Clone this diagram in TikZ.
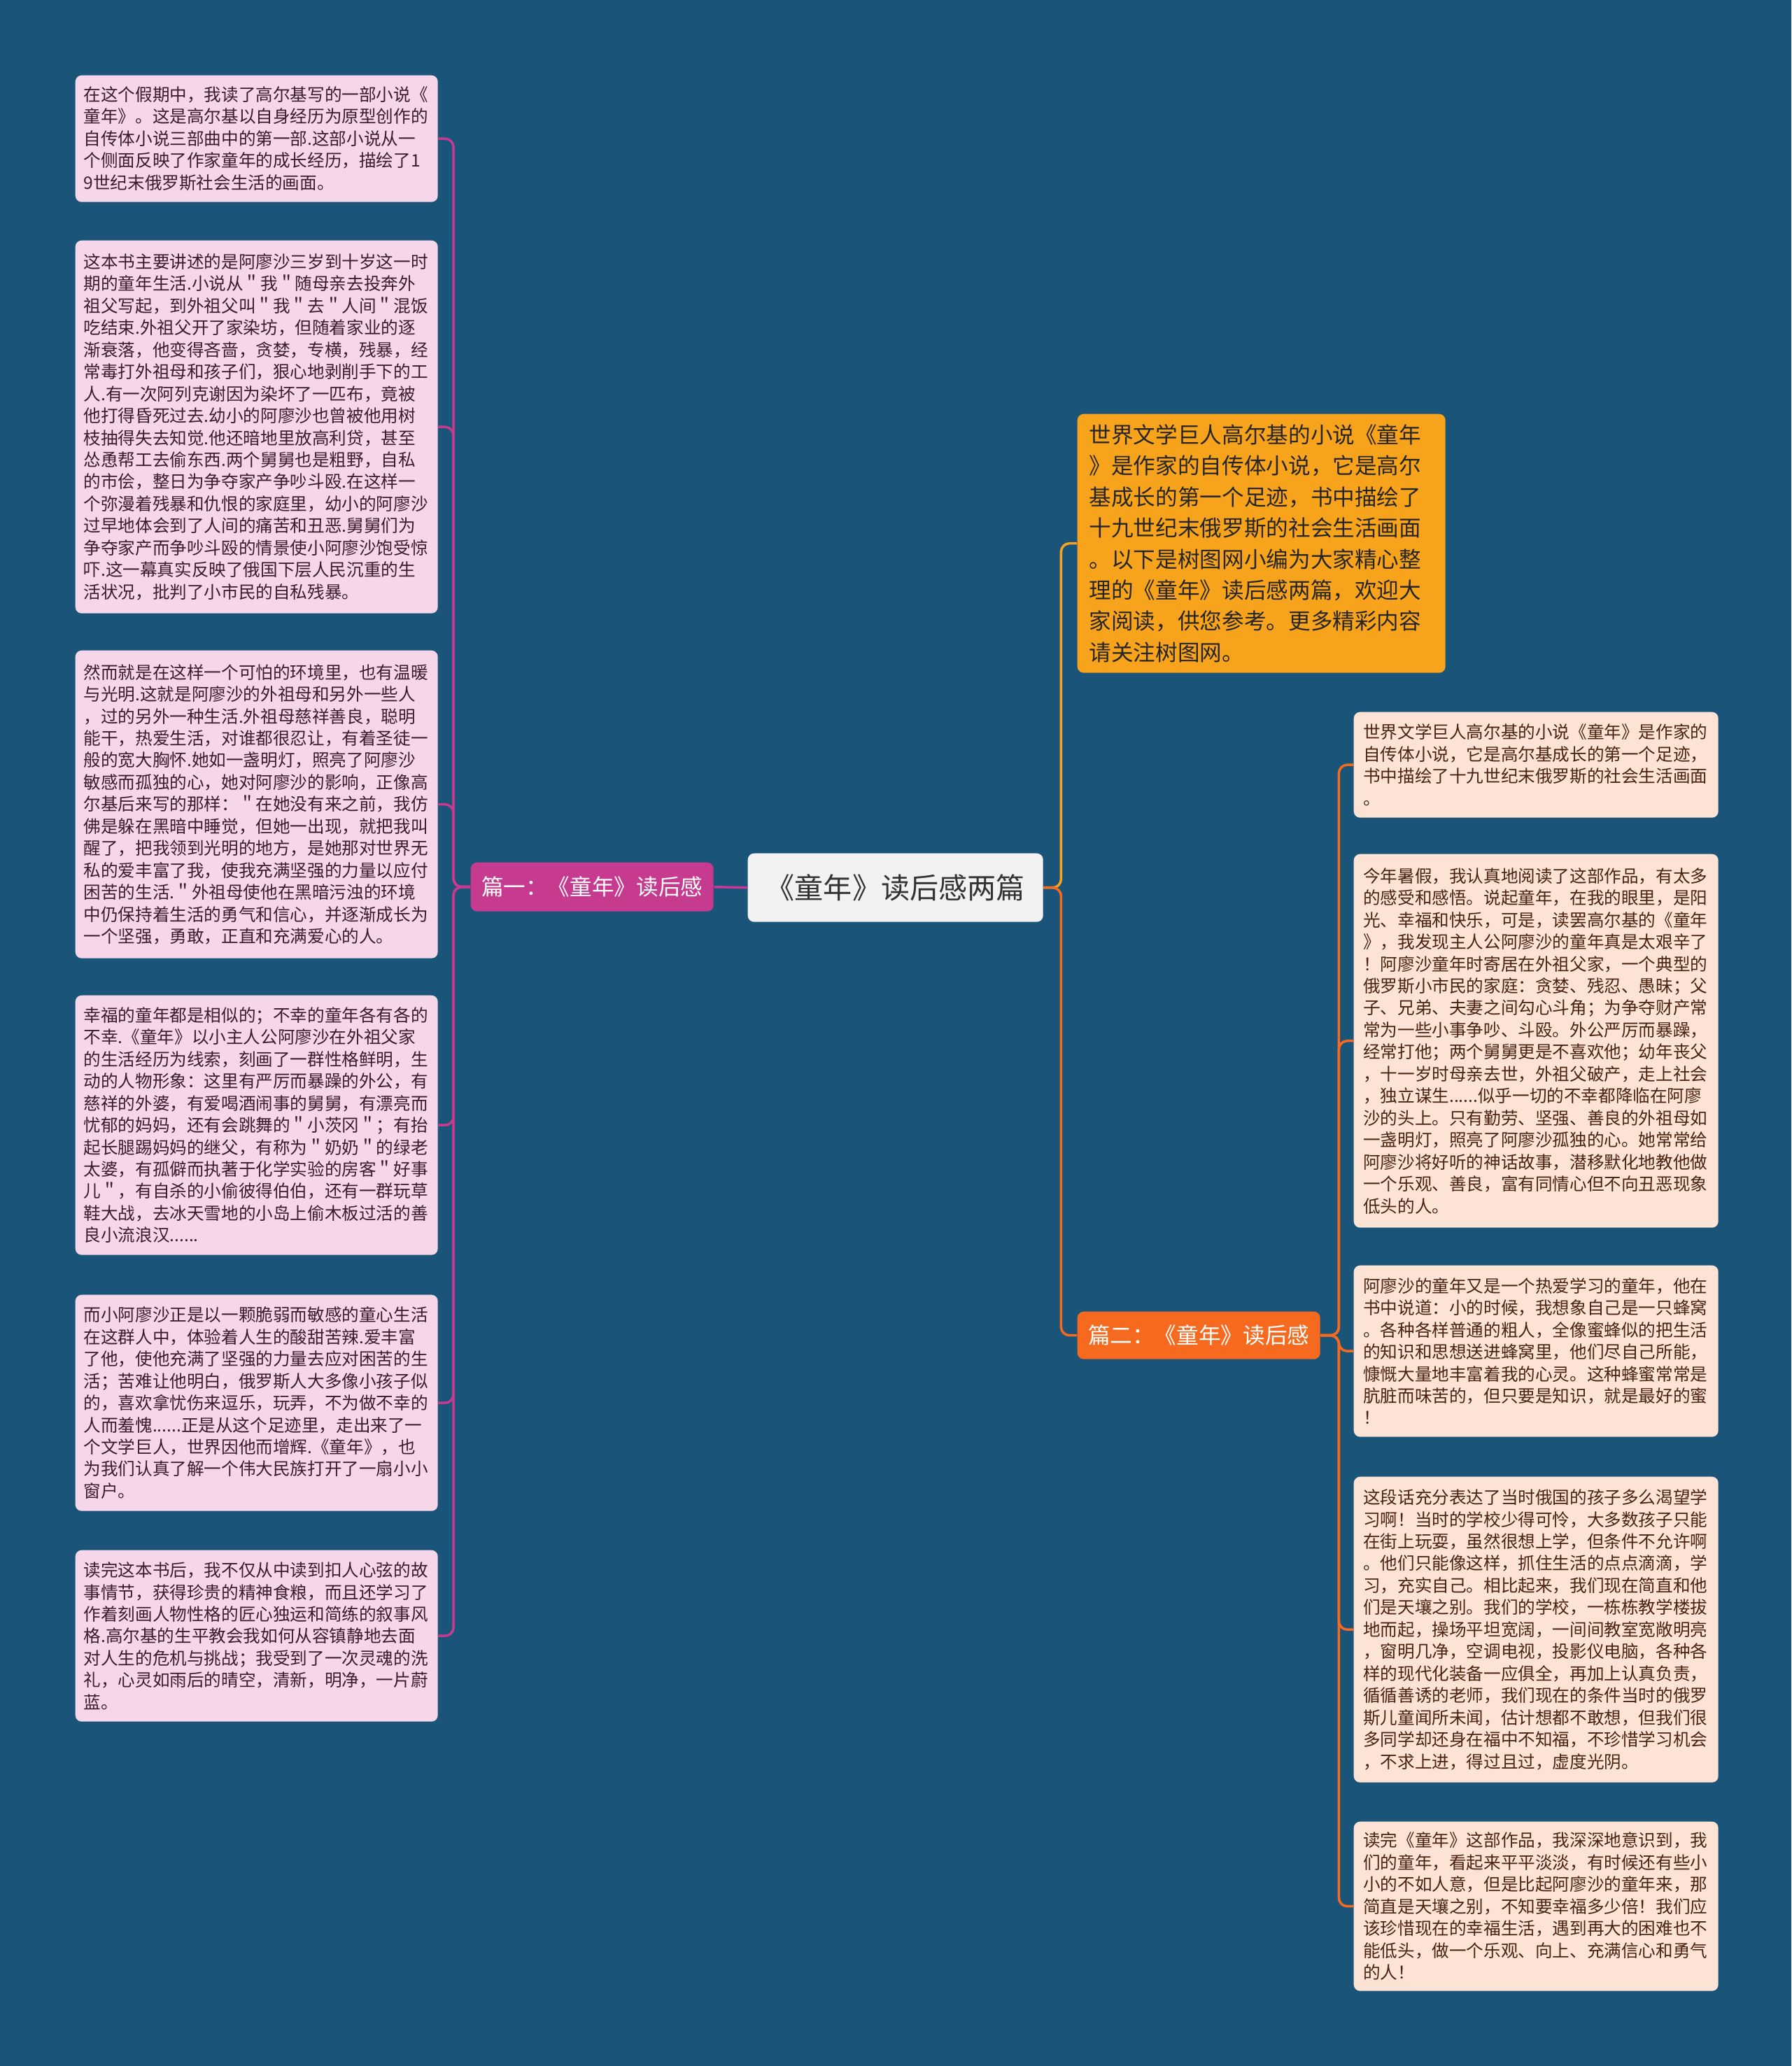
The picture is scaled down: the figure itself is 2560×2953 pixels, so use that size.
\documentclass[tikz,border=0pt]{standalone}
\usepackage{fontspec}
\newfontfamily\cjk{Noto Sans CJK SC}
\definecolor{bgblue}{HTML}{1B5479}
\definecolor{pinkbox}{HTML}{F6D7EA}
\definecolor{peachbox}{HTML}{FDE3D5}
\definecolor{magenta1}{HTML}{C63A8F}
\definecolor{gold1}{HTML}{F8A31C}
\definecolor{orange1}{HTML}{F56A1F}
\definecolor{greybox}{HTML}{F2F2F2}
\definecolor{lefttext}{HTML}{3A1B30}
\definecolor{righttext}{HTML}{4A2411}
\begin{document}
\begin{tikzpicture}[x=0.1mm, y=-0.1mm,
    every node/.style={font=\cjk, inner sep=0pt},
    card/.style={anchor=north west, rounded corners=0.9mm, align=left},
    leftcard/.style={card, fill=pinkbox, text=lefttext, text width=49.4mm, minimum width=51.8mm,
        font=\cjk\fontsize{7pt}{8.95pt}\selectfont},
    rightcard/.style={card, fill=peachbox, text=righttext, text width=49.4mm, minimum width=52.1mm,
        font=\cjk\fontsize{7pt}{8.95pt}\selectfont},
    introcard/.style={card, fill=gold1, text=black!85, text width=49.2mm, minimum width=52.6mm,
        font=\cjk\fontsize{9pt}{12.63pt}\selectfont},
    topic/.style={anchor=north west, rounded corners=0.9mm, fill=greybox, text=black!80,
        minimum width=42.2mm, minimum height=9.8mm, font=\cjk\fontsize{11.7pt}{14pt}\selectfont},
    branch/.style={anchor=north west, rounded corners=0.9mm, text=white,
        minimum width=34.7mm, font=\cjk\fontsize{9pt}{11pt}\selectfont},
    linkl/.style={draw=magenta1, line width=0.35mm, rounded corners=1.2mm},
    linkg/.style={draw=gold1, line width=0.35mm, rounded corners=1.2mm},
    linko/.style={draw=orange1, line width=0.35mm, rounded corners=1.2mm}]
% 1. 背景
\fill[bgblue] (0,0) rectangle (2560,2953);
\useasboundingbox (0,0) rectangle (2560,2953);

% 2. 中心与两个分支
\node[topic] (root) at (1068,1219) {《童年》读后感两篇};
\node[branch, fill=magenta1, minimum height=7mm] (part1) at (672,1232) {篇一：《童年》读后感};
\node[branch, fill=orange1, minimum height=6.8mm] (part2) at (1539,1874) {篇二：《童年》读后感};
\node[introcard, minimum height=37mm] (intro) at (1539,591) {%
世界文学巨人高尔基的小说《童年\\
》是作家的自传体小说，它是高尔\\
基成长的第一个足迹，书中描绘了\\
十九世纪末俄罗斯的社会生活画面\\
。以下是树图网小编为大家精心整\\
理的《童年》读后感两篇，欢迎大\\
家阅读，供您参考。更多精彩内容\\
请关注树图网。};

% 3. 篇一
\node[leftcard, minimum height=18.1mm] (a1) at (107,107) {%
在这个假期中，我读了高尔基写的一部小说《\\
童年》。这是高尔基以自身经历为原型创作的\\
自传体小说三部曲中的第一部.这部小说从一\\
个侧面反映了作家童年的成长经历，描绘了1\\
9世纪末俄罗斯社会生活的画面。};
\node[leftcard, minimum height=53.3mm] (a2) at (107,343) {%
这本书主要讲述的是阿廖沙三岁到十岁这一时\\
期的童年生活.小说从＂我＂随母亲去投奔外\\
祖父写起，到外祖父叫＂我＂去＂人间＂混饭\\
吃结束.外祖父开了家染坊，但随着家业的逐\\
渐衰落，他变得吝啬，贪婪，专横，残暴，经\\
常毒打外祖母和孩子们，狠心地剥削手下的工\\
人.有一次阿列克谢因为染坏了一匹布，竟被\\
他打得昏死过去.幼小的阿廖沙也曾被他用树\\
枝抽得失去知觉.他还暗地里放高利贷，甚至\\
怂恿帮工去偷东西.两个舅舅也是粗野，自私\\
的市侩，整日为争夺家产争吵斗殴.在这样一\\
个弥漫着残暴和仇恨的家庭里，幼小的阿廖沙\\
过早地体会到了人间的痛苦和丑恶.舅舅们为\\
争夺家产而争吵斗殴的情景使小阿廖沙饱受惊\\
吓.这一幕真实反映了俄国下层人民沉重的生\\
活状况，批判了小市民的自私残暴。};
\node[leftcard, minimum height=44mm] (a3) at (107,929) {%
然而就是在这样一个可怕的环境里，也有温暖\\
与光明.这就是阿廖沙的外祖母和另外一些人\\
，过的另外一种生活.外祖母慈祥善良，聪明\\
能干，热爱生活，对谁都很忍让，有着圣徒一\\
般的宽大胸怀.她如一盏明灯，照亮了阿廖沙\\
敏感而孤独的心，她对阿廖沙的影响，正像高\\
尔基后来写的那样：＂在她没有来之前，我仿\\
佛是躲在黑暗中睡觉，但她一出现，就把我叫\\
醒了，把我领到光明的地方，是她那对世界无\\
私的爱丰富了我，使我充满坚强的力量以应付\\
困苦的生活.＂外祖母使他在黑暗污浊的环境\\
中仍保持着生活的勇气和信心，并逐渐成长为\\
一个坚强，勇敢，正直和充满爱心的人。};
\node[leftcard, minimum height=37.1mm] (a4) at (107,1422) {%
幸福的童年都是相似的；不幸的童年各有各的\\
不幸.《童年》以小主人公阿廖沙在外祖父家\\
的生活经历为线索，刻画了一群性格鲜明，生\\
动的人物形象：这里有严厉而暴躁的外公，有\\
慈祥的外婆，有爱喝酒闹事的舅舅，有漂亮而\\
忧郁的妈妈，还有会跳舞的＂小茨冈＂；有抬\\
起长腿踢妈妈的继父，有称为＂奶奶＂的绿老\\
太婆，有孤僻而执著于化学实验的房客＂好事\\
儿＂，有自杀的小偷彼得伯伯，还有一群玩草\\
鞋大战，去冰天雪地的小岛上偷木板过活的善\\
良小流浪汉......};
\node[leftcard, minimum height=30.9mm] (a5) at (107,1850) {%
而小阿廖沙正是以一颗脆弱而敏感的童心生活\\
在这群人中，体验着人生的酸甜苦辣.爱丰富\\
了他，使他充满了坚强的力量去应对困苦的生\\
活；苦难让他明白，俄罗斯人大多像小孩子似\\
的，喜欢拿忧伤来逗乐，玩弄，不为做不幸的\\
人而羞愧......正是从这个足迹里，走出来了一\\
个文学巨人，世界因他而增辉.《童年》，也\\
为我们认真了解一个伟大民族打开了一扇小小\\
窗户。};
\node[leftcard, minimum height=24.5mm] (a6) at (107,2215) {%
读完这本书后，我不仅从中读到扣人心弦的故\\
事情节，获得珍贵的精神食粮，而且还学习了\\
作着刻画人物性格的匠心独运和简练的叙事风\\
格.高尔基的生平教会我如何从容镇静地去面\\
对人生的危机与挑战；我受到了一次灵魂的洗\\
礼，心灵如雨后的晴空，清新，明净，一片蔚\\
蓝。};

% 4. 篇二
\node[rightcard, minimum height=15.1mm] (b1) at (1934,1017) {%
世界文学巨人高尔基的小说《童年》是作家的\\
自传体小说，它是高尔基成长的第一个足迹，\\
书中描绘了十九世纪末俄罗斯的社会生活画面\\
。};
\node[rightcard, minimum height=53.4mm] (b2) at (1934,1220) {%
今年暑假，我认真地阅读了这部作品，有太多\\
的感受和感悟。说起童年，在我的眼里，是阳\\
光、幸福和快乐，可是，读罢高尔基的《童年\\
》，我发现主人公阿廖沙的童年真是太艰辛了\\
！阿廖沙童年时寄居在外祖父家，一个典型的\\
俄罗斯小市民的家庭：贪婪、残忍、愚昧；父\\
子、兄弟、夫妻之间勾心斗角；为争夺财产常\\
常为一些小事争吵、斗殴。外公严厉而暴躁，\\
经常打他；两个舅舅更是不喜欢他；幼年丧父\\
，十一岁时母亲去世，外祖父破产，走上社会\\
，独立谋生......似乎一切的不幸都降临在阿廖\\
沙的头上。只有勤劳、坚强、善良的外祖母如\\
一盏明灯，照亮了阿廖沙孤独的心。她常常给\\
阿廖沙将好听的神话故事，潜移默化地教他做\\
一个乐观、善良，富有同情心但不向丑恶现象\\
低头的人。};
\node[rightcard, minimum height=24.5mm] (b3) at (1934,1808) {%
阿廖沙的童年又是一个热爱学习的童年，他在\\
书中说道：小的时候，我想象自己是一只蜂窝\\
。各种各样普通的粗人，全像蜜蜂似的把生活\\
的知识和思想送进蜂窝里，他们尽自己所能，\\
慷慨大量地丰富着我的心灵。这种蜂蜜常常是\\
肮脏而味苦的，但只要是知识，就是最好的蜜\\
！};
\node[rightcard, minimum height=43.7mm] (b4) at (1934,2110) {%
这段话充分表达了当时俄国的孩子多么渴望学\\
习啊！当时的学校少得可怜，大多数孩子只能\\
在街上玩耍，虽然很想上学，但条件不允许啊\\
。他们只能像这样，抓住生活的点点滴滴，学\\
习，充实自己。相比起来，我们现在简直和他\\
们是天壤之别。我们的学校，一栋栋教学楼拔\\
地而起，操场平坦宽阔，一间间教室宽敞明亮\\
，窗明几净，空调电视，投影仪电脑，各种各\\
样的现代化装备一应俱全，再加上认真负责，\\
循循善诱的老师，我们现在的条件当时的俄罗\\
斯儿童闻所未闻，估计想都不敢想，但我们很\\
多同学却还身在福中不知福，不珍惜学习机会\\
，不求上进，得过且过，虚度光阴。};
\node[rightcard, minimum height=24.2mm] (b5) at (1934,2603) {%
读完《童年》这部作品，我深深地意识到，我\\
们的童年，看起来平平淡淡，有时候还有些小\\
小的不如人意，但是比起阿廖沙的童年来，那\\
简直是天壤之别，不知要幸福多少倍！我们应\\
该珍惜现在的幸福生活，遇到再大的困难也不\\
能低头，做一个乐观、向上、充满信心和勇气\\
的人！};

% 5. 连线
\draw[linkl] (root.west) -- (part1.east);
\foreach \n in {a1,a2,a3,a4,a5,a6}
  \draw[linkl] (part1.west) -- ++(-24,0) |- (\n.east);
\draw[linkg] (root.east) -- ++(25,0) |- (intro.west);
\draw[linko] (root.east) -- ++(25,0) |- (part2.west);
\foreach \n in {b1,b2,b3,b4,b5}
  \draw[linko] (part2.east) -- ++(26,0) |- (\n.west);
\end{tikzpicture}
\end{document}
